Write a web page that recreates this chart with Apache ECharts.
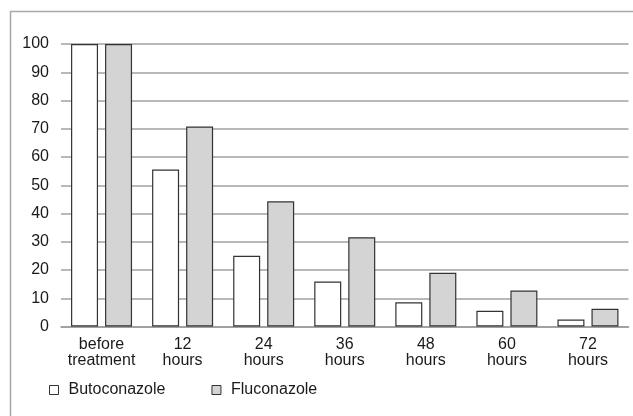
<!DOCTYPE html>
<html>
<head>
<meta charset="utf-8">
<script src="https://cdn.jsdelivr.net/npm/echarts@6/dist/echarts.min.js"></script>
<style>
html,body{margin:0;padding:0;background:#fff;}
#c{width:633px;height:416px;}
</style>
</head>
<body>
<div id="c"></div>
<script>
var categories = ['before\ntreatment', '12\nhours', '24\nhours', '36\nhours', '48\nhours', '60\nhours', '72\nhours'];
var butoconazole = [100, 55.6, 25.0, 15.9, 8.6, 5.6, 2.5];
var fluconazole = [100, 70.8, 44.3, 31.6, 19.0, 12.7, 6.3];
var yTicks = [0, 10, 20, 30, 40, 50, 60, 70, 80, 90, 100];

var FONT = '"Liberation Sans", Arial, sans-serif';
var chart = echarts.init(document.getElementById('c'), null, {renderer: 'canvas'});
chart.setOption({
  animation: false,
  backgroundColor: '#fff',
  graphic: [{
    type: 'rect',
    shape: {x: 10.5, y: 11.5, width: 640, height: 420},
    style: {fill: 'none', stroke: '#a8a8a8', lineWidth: 1.5},
    silent: true, z: -1
  }],
  grid: {left: 61, right: 4.5, top: 44, bottom: 89.5, containLabel: false},
  legend: {
    left: 44, top: 377,
    itemWidth: 9, itemHeight: 9, itemGap: 46,
    icon: 'rect',
    textStyle: {fontFamily: FONT, fontSize: 16, color: '#1a1a1a', padding: [0, 0, 0, 5]},
    data: [
      {name: 'Butoconazole', itemStyle: {color: '#fff', borderColor: '#333', borderWidth: 1}},
      {name: 'Fluconazole', itemStyle: {color: '#d4d4d4', borderColor: '#333', borderWidth: 1}}
    ]
  },
  xAxis: {
    type: 'category',
    data: categories,
    axisLine: {show: true, lineStyle: {color: '#999', width: 1.5}},
    axisTick: {show: false},
    axisLabel: {fontFamily: FONT, fontSize: 16, color: '#1a1a1a', margin: 10, lineHeight: 16, interval: 0}
  },
  yAxis: {
    type: 'value',
    min: 0, max: 100, interval: 10,
    axisLine: {show: false},
    axisTick: {show: false},
    splitLine: {show: true, lineStyle: {color: '#a0a0a0', width: 1.5}},
    axisLabel: {fontFamily: FONT, fontSize: 16, color: '#1a1a1a', margin: 12,
      formatter: function (v) { return yTicks.indexOf(v) >= 0 ? String(v) : ''; }}
  },
  series: [
    {
      name: 'Butoconazole', type: 'bar', data: butoconazole,
      barWidth: 27, barGap: '26%',
      itemStyle: {color: '#fff', borderColor: '#333', borderWidth: 1.2}
    },
    {
      name: 'Fluconazole', type: 'bar', data: fluconazole,
      barWidth: 27,
      itemStyle: {color: '#d4d4d4', borderColor: '#333', borderWidth: 1.2}
    }
  ]
});
</script>
</body>
</html>
